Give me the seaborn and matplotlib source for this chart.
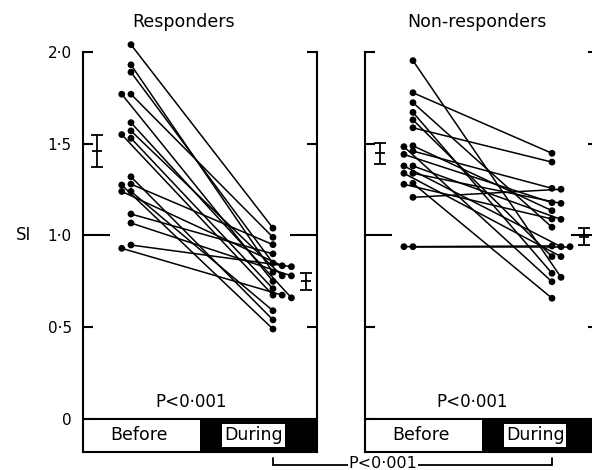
import numpy as np
import pandas as pd
import matplotlib
matplotlib.use("Agg")
import matplotlib.pyplot as plt
import matplotlib.transforms as mtransforms
from matplotlib.patches import Rectangle
from matplotlib.lines import Line2D
import seaborn as sns

# SI per patient (before[i] is joined to during[i])
resp_before = [2.04, 1.93, 1.89, 1.77, 1.77, 1.615, 1.57, 1.55, 1.53,
               1.32, 1.28, 1.275, 1.24, 1.24, 1.117, 1.068, 0.948, 0.93]
resp_during = [1.04, 0.80, 0.85, 0.99, 0.75, 0.66, 0.78, 0.675, 0.71,
               0.54, 0.95, 0.49, 0.59, 0.835, 0.90, 0.78, 0.83, 0.675]

non_before = [1.953, 1.778, 1.724, 1.671, 1.63, 1.587, 1.489, 1.484, 1.46, 1.442,
              1.379, 1.379, 1.339, 1.339, 1.284, 1.279, 1.208, 0.939, 0.939]
non_during = [0.772, 1.448, 1.045, 0.794, 0.885, 1.40, 1.135, 0.748, 1.257, 1.179,
              1.088, 0.939, 1.175, 0.885, 0.658, 1.09, 1.252, 0.939, 0.943]

# group mean +/- SEM bars as drawn (before, during)
resp_mean = [1.46, 0.75]
resp_sem = [0.085, 0.047]
non_mean = [1.447, 0.993]
non_sem = [0.057, 0.046]

titles = ["Responders", "Non-responders"]
phases = ["Before", "During"]
p_text = "P<0·001"
ytick_vals = [0, 0.5, 1.0, 1.5, 2.0]
ytick_labels = ["0", "0·5", "1·0", "1·5", "2·0"]

W, H = 592, 470
YMIN = -0.18

sns.set_style("white")
plt.rcParams["font.family"] = ["DejaVu Sans"]
plt.rcParams["text.color"] = "black"
plt.rcParams["axes.labelcolor"] = "black"
plt.rcParams["ytick.color"] = "black"
plt.rcParams["ytick.labelcolor"] = "black"


def spread(values, direction, gap=0.025, step=0.065):
    # push coinciding dots sideways, like the hand-drawn original
    values = np.asarray(values, dtype=float)
    order = np.argsort(-values, kind="stable")
    placed = []
    slots = np.zeros(len(values), dtype=int)
    for i in order:
        k = 0
        while any(s == k and abs(v - values[i]) < gap for v, s in placed):
            k += 1
        placed.append((values[i], k))
        slots[i] = k
    return direction * step * slots


def make_frame(before, during):
    n = len(before)
    df = pd.DataFrame({
        "patient": np.tile(np.arange(n), 2),
        "phase": [phases[0]] * n + [phases[1]] * n,
        "SI": list(before) + list(during),
    })
    df["pos"] = np.concatenate([0 + spread(before, -1), 1 + spread(during, 1)])
    return df


fig = plt.figure(figsize=(W / 100, H / 100), dpi=100)


def px_axes(x0, x1, ytop, ybot):
    return fig.add_axes([x0 / W, 1 - ybot / H, (x1 - x0) / W, (ybot - ytop) / H])


ax1 = px_axes(83, 317, 52, 452)
ax2 = px_axes(365, 598, 52, 452)

panels = [
    (ax1, resp_before, resp_during, resp_mean, resp_sem, (-0.338, 1.31), 0.43),
    (ax2, non_before, non_during, non_mean, non_sem, (-0.345, 1.331), 0.48),
]

for i, (ax, before, during, mean, sem, xlim, tx) in enumerate(panels):
    df = make_frame(before, during)
    sns.lineplot(data=df, x="pos", y="SI", units="patient", estimator=None,
                 color="black", lw=1.1, ax=ax, legend=False, clip_on=False)
    sns.scatterplot(data=df, x="pos", y="SI", color="black", s=24,
                    edgecolor="none", ax=ax, zorder=3, legend=False, clip_on=False)

    # mean +/- SEM beside each column
    ex = [0 - 0.24, 1 + 0.23]
    ax.errorbar(ex, mean, yerr=sem, fmt="none", ecolor="black",
                elinewidth=1.3, capsize=4, capthick=1.3)
    ax.plot(ex, mean, ls="none", marker="_", ms=7, mew=1.3, color="black")

    ax.set_xlim(*xlim)
    ax.set_ylim(YMIN, 2.0)
    ax.set_xlabel("")
    ax.set_ylabel("")
    ax.set_xticks([])

    # Before / During strip under the zero line
    bt = mtransforms.blended_transform_factory(ax.transAxes, ax.transData)
    ax.add_patch(Rectangle((0, YMIN), 0.5, -YMIN, transform=bt,
                           facecolor="white", edgecolor="none", zorder=1))
    ax.add_patch(Rectangle((0.5, YMIN), 0.5, -YMIN, transform=bt,
                           facecolor="black", edgecolor="none", zorder=1))
    ax.axhline(0, color="black", lw=1.5, zorder=2)
    ax.text(0.24, YMIN / 2, phases[0], transform=bt, ha="center", va="center",
            fontsize=12.5)
    ax.text(0.73, YMIN / 2, phases[1], transform=bt, ha="center", va="center",
            fontsize=12.5, zorder=4,
            bbox=dict(boxstyle="square,pad=0.12", facecolor="white", edgecolor="none"))
    ax.text(0.46, 0.093, p_text, transform=bt, ha="center", va="center", fontsize=12)

    ax.text(tx, 1.075, titles[i], transform=ax.transAxes, ha="center",
            va="center", fontsize=12.5)

    for side in ["left", "right", "bottom"]:
        ax.spines[side].set_visible(True)
        ax.spines[side].set_linewidth(1.5)
        ax.spines[side].set_color("black")
    ax.spines["top"].set_visible(False)

    major = [v for v in ytick_vals if v != 1.0]
    ax.set_yticks(major)
    ax.set_yticks([1.0], minor=True)
    ax.tick_params(axis="y", which="both", direction="in", left=True, right=True,
                   width=1.5, color="black", pad=8, labelsize=11,
                   labelleft=(i == 0))
    ax.tick_params(axis="y", which="major", length=7.5)
    ax.tick_params(axis="y", which="minor", length=19.5)
    if i == 0:
        ax.set_yticklabels([l for v, l in zip(ytick_vals, ytick_labels) if v != 1.0])
        ax.set_yticklabels(["1·0"], minor=True)

ax1.set_ylabel("SI", rotation=0, fontsize=12, ha="center", va="center")
ax1.yaxis.set_label_coords(-0.252, (1.0 - YMIN) / (2.0 - YMIN))

# bracket comparing the two "during" groups
to_fig = fig.transFigure.inverted()
xl = to_fig.transform(ax1.transData.transform((1, 0)))[0]
xr = to_fig.transform(ax2.transData.transform((1, 0)))[0]
yh = 1 - 465 / H
yt = 1 - 458 / H
for x in (xl, xr):
    fig.add_artist(Line2D([x, x], [yh, yt], color="black", lw=1.3))
fig.add_artist(Line2D([xl, xr], [yh, yh], color="black", lw=1.3))
fig.text(383 / W, 1 - 468.5 / H, p_text, ha="center", va="baseline", fontsize=11.5,
         bbox=dict(boxstyle="square,pad=0.05", facecolor="white", edgecolor="none"))

fig.savefig("out.png", dpi=100)
